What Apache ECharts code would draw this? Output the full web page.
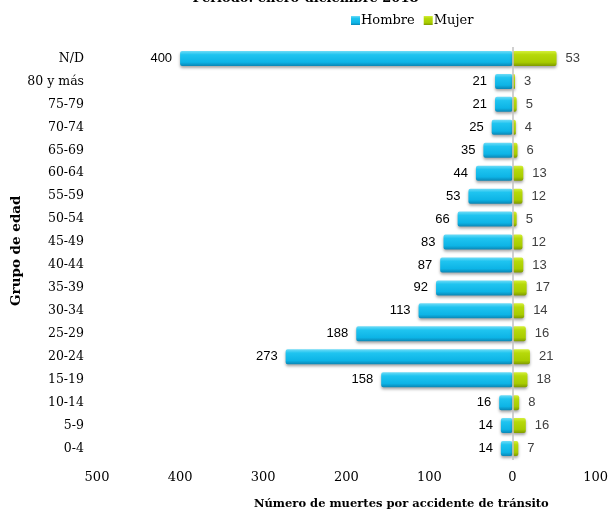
<!DOCTYPE html>
<html><head><meta charset="utf-8">
<script src="https://cdn.jsdelivr.net/npm/echarts@6/dist/echarts.min.js"></script>
<style>html,body{margin:0;padding:0;background:#fff}#c{width:611px;height:514px}</style>
</head><body><div id="c"></div>
<script>
const categories = ['N/D','80 y más','75-79','70-74','65-69','60-64','55-59','50-54','45-49','40-44','35-39','30-34','25-29','20-24','15-19','10-14','5-9','0-4'];
const hombre = [400,21,21,25,35,44,53,66,83,87,92,113,188,273,158,16,14,14];
const mujer = [53,3,5,4,6,13,12,5,12,13,17,14,16,21,18,8,16,7];
const xTicks = {min:-500, max:100, interval:100};

const serif = '"DejaVu Serif", serif';
const sans = '"Liberation Sans", "Open Sans", sans-serif';
const blueGrad = new echarts.graphic.LinearGradient(0,0,0,1,[
  {offset:0,color:'#6fdcf7'},{offset:0.25,color:'#1fc4f0'},{offset:0.75,color:'#0db4e6'},{offset:1,color:'#0a86b5'}]);
const greenGrad = new echarts.graphic.LinearGradient(0,0,0,1,[
  {offset:0,color:'#d4ef3a'},{offset:0.25,color:'#b6d90a'},{offset:0.75,color:'#a8cc00'},{offset:1,color:'#7f9a00'}]);

const chart = echarts.init(document.getElementById('c'), null, {renderer:'canvas'});
chart.setOption({
  animation:false,
  title:{text:'Periodo: enero-diciembre 2018', left:'center', top:-13, textStyle:{fontFamily:serif, fontSize:13, fontWeight:'bold', color:'#000'}},
  legend:{top:9, left:346, itemWidth:9, itemHeight:9, itemGap:9,
    textStyle:{fontFamily:serif, fontSize:13, color:'#000', padding:[0,0,0,-4]},
    data:[{name:'Hombre', icon:'rect'},{name:'Mujer', icon:'rect'}]},
  grid:{left:97, right:10, top:47, bottom:54, containLabel:false},
  xAxis:{type:'value', min:xTicks.min, max:xTicks.max, interval:xTicks.interval,
    axisLine:{show:false}, axisTick:{show:false}, splitLine:{show:false},
    axisLabel:{formatter:v=>Math.abs(v), fontFamily:serif, fontSize:13, color:'#000', margin:11}},
  yAxis:{type:'category', data:categories, inverse:true,
    axisLine:{show:false}, axisTick:{show:false},
    axisLabel:{fontFamily:serif, fontSize:12.5, color:'#000', margin:13}},
  graphic:[
    {type:'text', left:254, top:498, style:{text:'Número de muertes por accidente de tránsito', font:'bold 11.5px '+serif, fill:'#000'}},
    {type:'text', x:9, y:306, rotation:Math.PI/2, style:{text:'Grupo de edad', font:'bold 13.5px '+serif, fill:'#000'}}
  ],
  series:[
    {name:'Hombre', type:'bar', stack:'s', barWidth:15,
      data:hombre.map(v=>-v),
      itemStyle:{color:blueGrad, borderRadius:2, shadowColor:'rgba(0,0,0,0.35)', shadowBlur:3, shadowOffsetY:2},
      label:{show:true, position:'left', distance:8, formatter:p=>Math.abs(p.value), fontFamily:sans, fontSize:13, color:'#000'},
      markLine:{silent:true, symbol:'none', label:{show:false}, lineStyle:{color:'#c0c0c0', width:1.5, type:'solid'}, data:[{xAxis:0}]}
    },
    {name:'Mujer', type:'bar', stack:'s', barWidth:15,
      data:mujer,
      itemStyle:{color:greenGrad, borderRadius:2, shadowColor:'rgba(0,0,0,0.35)', shadowBlur:3, shadowOffsetY:2},
      label:{show:true, position:'right', distance:9, fontFamily:sans, fontSize:13, color:'#404040'}
    }
  ]
});
</script></body></html>
